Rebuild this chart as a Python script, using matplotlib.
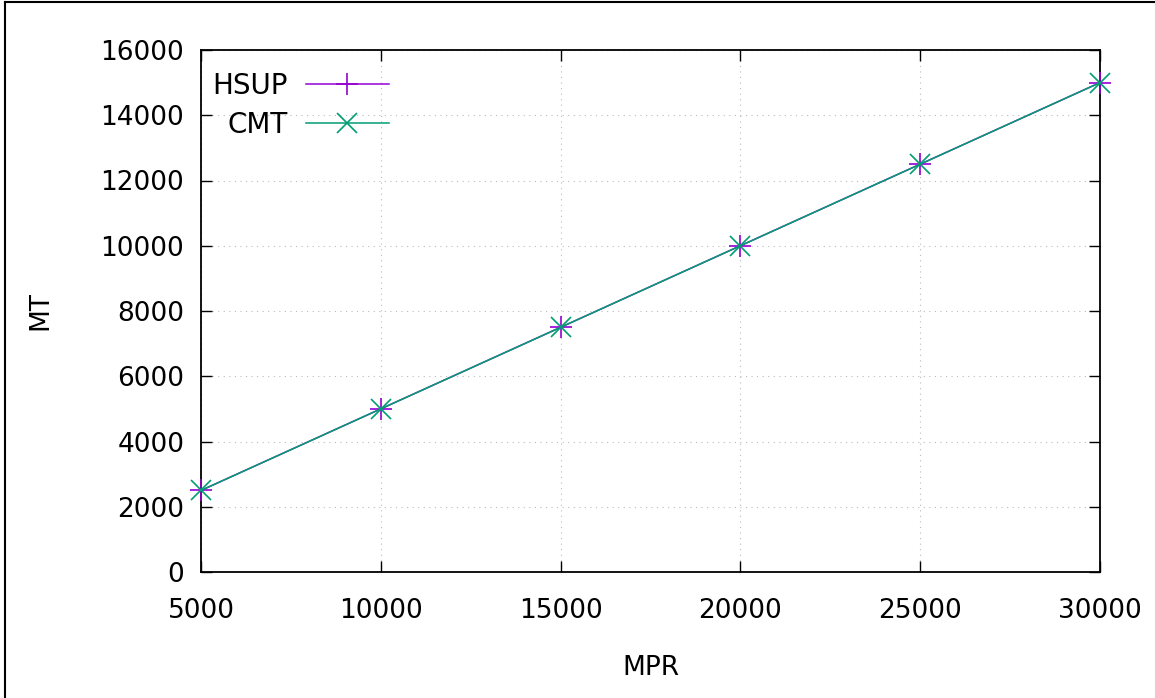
import matplotlib.pyplot as plt
from matplotlib.lines import Line2D

# data
mpr = [5000, 10000, 15000, 20000, 25000, 30000]
hsup = [2500, 5000, 7500, 10000, 12500, 15000]
cmt = [2500, 5000, 7500, 10000, 12500, 15000]

plt.rcParams['font.family'] = 'DejaVu Sans'
fig = plt.figure(figsize=(11.55, 6.98), dpi=100)
ax = fig.add_axes([201 / 1155, 1 - 572 / 698, 899 / 1155, 522 / 698])

ax.plot(mpr, hsup, color="#9400d3", lw=1.1, marker="+", ms=16, mew=1.2, label="HSUP",
        clip_on=False, zorder=3)
ax.plot(mpr, cmt, color="#009e73", lw=1.1, marker="x", ms=14, mew=1.2, label="CMT",
        clip_on=False, zorder=3)

ax.set_xlim(5000, 30000)
ax.set_ylim(0, 16000)
ax.set_xticks(range(5000, 30001, 5000))
ax.set_yticks(range(0, 16001, 2000))
ax.grid(True, color="#bbbbbb", ls=(0, (1, 4)), lw=0.8)
ax.tick_params(axis="both", direction="in", length=8, width=1, labelsize=19,
               top=True, right=True)
ax.tick_params(axis="x", pad=19)
ax.tick_params(axis="y", pad=12)
for s in ax.spines.values():
    s.set_linewidth(1.3)
ax.set_xlabel("MPR", fontsize=19, labelpad=22)
ax.set_ylabel("MT", fontsize=19, labelpad=34)

leg = ax.legend(loc="upper left", markerfirst=False, frameon=False, fontsize=20,
                handlelength=3.0, handletextpad=0.65, borderaxespad=0.0,
                labelspacing=0.4, bbox_to_anchor=(0.0, 0.98))

# outer frame (left and top edges)
fig.add_artist(Line2D([5 / 1155, 5 / 1155], [0, 1 - 2 / 698], color="black", lw=1.5,
                      transform=fig.transFigure))
fig.add_artist(Line2D([5 / 1155, 1], [1 - 2 / 698, 1 - 2 / 698], color="black", lw=1.5,
                      transform=fig.transFigure))

fig.savefig("out.png", dpi=100)
